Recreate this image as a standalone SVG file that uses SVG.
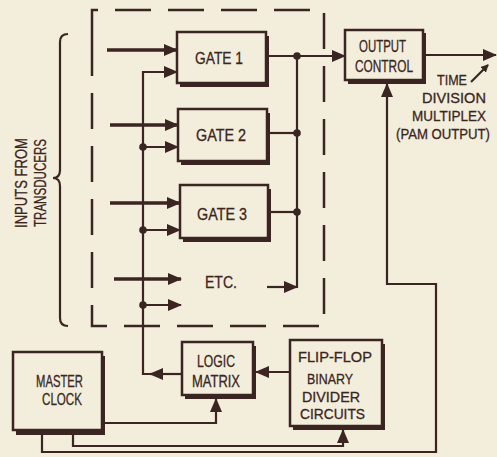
<svg xmlns="http://www.w3.org/2000/svg" width="497" height="457" viewBox="0 0 497 457">
<defs>
<style>
.bg{fill:#f2eedb}
.box{fill:#f2eedb;stroke:#3b2522;stroke-width:2.5}
.sh{fill:#3b2522}
.ln{fill:none;stroke:#3b2522;stroke-width:2.2}
.thk{fill:none;stroke:#3b2522;stroke-width:3.5}
.dash{fill:none;stroke:#3b2522;stroke-width:2.5;stroke-dasharray:36 17}
.dot{fill:#3b2522}
text{font-family:"Liberation Sans",Arial,sans-serif;font-size:17px;fill:#3b2522;text-anchor:middle;stroke:#3b2522;stroke-width:0.3}
text.s{font-size:15px}
text.xs{font-size:14px}
</style>
<marker id="ah" markerUnits="userSpaceOnUse" markerWidth="14" markerHeight="12" refX="13" refY="6" orient="auto" viewBox="0 0 14 12">
<path d="M0,0 L14,6 L0,12 z" fill="#3b2522"/>
</marker>
<marker id="sm" markerUnits="userSpaceOnUse" markerWidth="8" markerHeight="8" refX="7" refY="4" orient="auto" viewBox="0 0 8 8">
<path d="M0,0 L8,4 L0,8 z" fill="#3b2522"/>
</marker>
</defs>
<rect class="bg" x="0" y="0" width="497" height="457"/>

<g id="group-boundary">
<path class="dash" d="M92,40 L92,10 L324,10 L324,326 L92,326 Z"/>
</g>

<g id="inputs-label">
<path class="ln" d="M68,34 Q60,34 60,42 L60,170 Q60,178 53,178 Q60,178 60,186 L60,318 Q60,326 68,326"/>
<text transform="translate(27,183) rotate(-90)" textLength="90" lengthAdjust="spacingAndGlyphs">INPUTS FROM</text>
<text transform="translate(46,183) rotate(-90)" textLength="88" lengthAdjust="spacingAndGlyphs">TRANSDUCERS</text>
</g>

<g id="gate1">
<rect class="sh" x="180" y="36" width="89" height="51"/>
<rect class="box" x="177" y="32" width="89" height="51"/>
<text x="219" y="64" textLength="48" lengthAdjust="spacingAndGlyphs">GATE 1</text>
</g>
<g id="gate2">
<rect class="sh" x="181" y="113" width="89" height="52"/>
<rect class="box" x="178" y="109" width="89" height="52"/>
<text x="221" y="141" textLength="50" lengthAdjust="spacingAndGlyphs">GATE 2</text>
</g>
<g id="gate3">
<rect class="sh" x="183" y="189" width="88" height="53"/>
<rect class="box" x="180" y="185" width="88" height="53"/>
<text x="222" y="220" textLength="50" lengthAdjust="spacingAndGlyphs">GATE 3</text>
</g>
<g id="etc">
<text x="221" y="288" textLength="32" lengthAdjust="spacingAndGlyphs">ETC.</text>
</g>
<g id="output-control">
<rect class="sh" x="348" y="33" width="78" height="51"/>
<rect class="box" x="345" y="30" width="78" height="50"/>
<text x="382.5" y="52" textLength="47" lengthAdjust="spacingAndGlyphs">OUTPUT</text>
<text x="384" y="72" textLength="58" lengthAdjust="spacingAndGlyphs">CONTROL</text>
</g>
<g id="tdm-label">
<text class="s" x="452" y="85" textLength="30" lengthAdjust="spacingAndGlyphs">TIME</text>
<text class="s" x="454" y="103" textLength="64" lengthAdjust="spacingAndGlyphs">DIVISION</text>
<text class="s" x="449" y="121" textLength="74" lengthAdjust="spacingAndGlyphs">MULTIPLEX</text>
<text class="xs" x="443" y="139" textLength="94" lengthAdjust="spacingAndGlyphs">(PAM OUTPUT)</text>
</g>
<g id="master-clock">
<rect class="sh" x="16" y="356" width="89" height="79"/>
<rect class="box" x="13" y="352" width="89" height="78"/>
<text x="59.5" y="387" textLength="47" lengthAdjust="spacingAndGlyphs">MASTER</text>
<text x="62" y="405" textLength="40" lengthAdjust="spacingAndGlyphs">CLOCK</text>
</g>
<g id="logic-matrix">
<rect class="sh" x="185" y="346" width="71" height="53"/>
<rect class="box" x="182" y="342" width="71" height="53"/>
<text x="216" y="367" textLength="38" lengthAdjust="spacingAndGlyphs">LOGIC</text>
<text x="216" y="387" textLength="48" lengthAdjust="spacingAndGlyphs">MATRIX</text>
</g>
<g id="flip-flop">
<rect class="sh" x="293" y="344" width="92" height="86"/>
<rect class="box" x="290" y="340" width="92" height="86"/>
<text class="s" x="335" y="362" textLength="74" lengthAdjust="spacingAndGlyphs">FLIP-FLOP</text>
<text class="s" x="330" y="384" textLength="46" lengthAdjust="spacingAndGlyphs">BINARY</text>
<text class="s" x="331" y="402" textLength="58" lengthAdjust="spacingAndGlyphs">DIVIDER</text>
<text class="s" x="332.5" y="419" textLength="65" lengthAdjust="spacingAndGlyphs">CIRCUITS</text>
</g>

<g id="connectors">
<line class="thk" x1="107" y1="50" x2="177" y2="50" marker-end="url(#ah)"/>
<line class="thk" x1="110" y1="125" x2="178" y2="125" marker-end="url(#ah)"/>
<line class="thk" x1="110" y1="203" x2="180" y2="203" marker-end="url(#ah)"/>
<line class="thk" x1="114" y1="279" x2="181" y2="279" marker-end="url(#ah)"/>
<line class="ln" x1="182" y1="374" x2="150" y2="374" marker-end="url(#ah)"/>
<path class="ln" d="M151,374 L143,374 L143,72 L177,72" marker-end="url(#ah)"/>
<line class="ln" x1="143" y1="147" x2="178" y2="147" marker-end="url(#ah)"/>
<line class="ln" x1="143" y1="230" x2="180" y2="230" marker-end="url(#ah)"/>
<line class="ln" x1="143" y1="305" x2="181" y2="305" marker-end="url(#ah)"/>
<line class="ln" x1="266" y1="56" x2="345" y2="56" marker-end="url(#ah)"/>
<line class="ln" x1="267" y1="133" x2="297" y2="133"/>
<line class="ln" x1="268" y1="212" x2="297" y2="212"/>
<line class="ln" x1="297" y1="56" x2="297" y2="288"/>
<line class="ln" x1="267" y1="287" x2="297" y2="287" marker-end="url(#ah)"/>
<line class="ln" x1="423" y1="55" x2="496" y2="55" marker-end="url(#ah)"/>
<line class="ln" x1="471" y1="82" x2="488" y2="65" stroke-width="1.6" marker-end="url(#sm)"/>
<path class="ln" d="M42,435 L42,452 L436,452 L436,284 L387,284 L387,84" marker-end="url(#ah)"/>
<path class="ln" d="M102,423 L216,423 L216,399" marker-end="url(#ah)"/>
<path class="ln" d="M73,435 L73,446 L343,446 L343,430" marker-end="url(#ah)"/>
<line class="ln" x1="290" y1="372" x2="256" y2="372" marker-end="url(#ah)"/>
<circle class="dot" cx="297" cy="56" r="3.8"/>
<circle class="dot" cx="297" cy="133" r="3.8"/>
<circle class="dot" cx="297" cy="212" r="3.8"/>
<circle class="dot" cx="143" cy="147" r="3.8"/>
<circle class="dot" cx="143" cy="230" r="3.8"/>
<circle class="dot" cx="143" cy="305" r="3.8"/>
</g>
</svg>
